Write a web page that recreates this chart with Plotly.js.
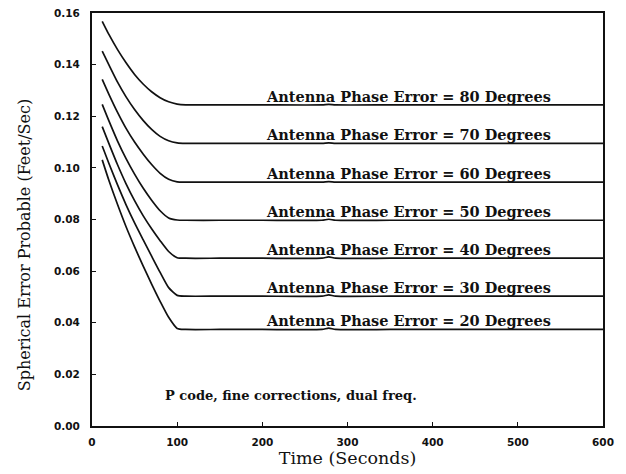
<!DOCTYPE html>
<html>
<head>
<meta charset="utf-8">
<script src="https://cdn.plot.ly/plotly-3.0.1.min.js"></script>
<style>
html,body{margin:0;padding:0;background:#fff;}
#chart{width:626px;height:474px;}
</style>
</head>
<body>
<div id="chart"></div>
<script>
// Time (seconds) sample points
var time = [12, 20, 30, 40, 50, 60, 70, 80, 90, 100, 110, 150, 200, 270, 278, 286, 350, 400, 500, 600];

// Spherical Error Probable (ft/s) for each antenna phase error
var sep80 = [0.1568, 0.1516, 0.1458, 0.1407, 0.1362, 0.1325, 0.1295, 0.1272, 0.1256, 0.1247, 0.1244, 0.1244, 0.1244, 0.1244, 0.1246, 0.1244, 0.1244, 0.1244, 0.1244, 0.1244];
var sep70 = [0.1452, 0.1398, 0.1332, 0.1275, 0.1226, 0.1184, 0.1149, 0.1122, 0.1105, 0.1097, 0.1095, 0.1095, 0.1095, 0.1095, 0.1097, 0.1095, 0.1095, 0.1095, 0.1095, 0.1095];
var sep60 = [0.1343, 0.1284, 0.1215, 0.1153, 0.1100, 0.1054, 0.1013, 0.0979, 0.0956, 0.0946, 0.0945, 0.0945, 0.0945, 0.0945, 0.0947, 0.0945, 0.0945, 0.0945, 0.0945, 0.0945];
var sep50 = [0.1246, 0.1181, 0.1104, 0.1036, 0.0976, 0.0922, 0.0875, 0.0834, 0.0806, 0.0798, 0.0797, 0.0797, 0.0797, 0.0797, 0.0801, 0.0797, 0.0797, 0.0797, 0.0797, 0.0797];
var sep40 = [0.1160, 0.1093, 0.1012, 0.0938, 0.0873, 0.0815, 0.0764, 0.0718, 0.0676, 0.0652, 0.0650, 0.0650, 0.0650, 0.0650, 0.0655, 0.0650, 0.0650, 0.0650, 0.0650, 0.0650];
var sep30 = [0.1085, 0.1016, 0.0934, 0.0857, 0.0787, 0.0722, 0.0658, 0.0595, 0.0536, 0.0506, 0.0503, 0.0503, 0.0503, 0.0503, 0.0508, 0.0503, 0.0503, 0.0503, 0.0503, 0.0503];
var sep20 = [0.1031, 0.0950, 0.0858, 0.0772, 0.0694, 0.0620, 0.0550, 0.0483, 0.0421, 0.0378, 0.0374, 0.0374, 0.0374, 0.0374, 0.0379, 0.0374, 0.0374, 0.0374, 0.0374, 0.0374];

var series = [sep80, sep70, sep60, sep50, sep40, sep30, sep20];
var phaseErrors = [80, 70, 60, 50, 40, 30, 20];
var labelTime = 202;
var noteText = 'P code, fine corrections, dual freq.';
var noteTime = 83;
var noteValue = 0.0118;
var yTitleText = 'Spherical Error Probable (Feet/Sec)';
var xTitleText = 'Time (Seconds)';

var traces = series.map(function (s, i) {
  return {
    x: time, y: s, type: 'scatter', mode: 'lines',
    line: {color: '#111', width: 1.7, shape: 'spline', smoothing: 0.6},
    name: phaseErrors[i] + ' deg', hoverinfo: 'x+y'
  };
});

var labelFont = {family: 'DejaVu Serif', size: 14.5, color: '#111'};
var noteFont = {family: 'DejaVu Serif', size: 13, color: '#111'};

var annotations = series.map(function (s, i) {
  return {
    x: labelTime, y: s[s.length - 1], xref: 'x', yref: 'y',
    xanchor: 'left', yanchor: 'bottom', showarrow: false,
    text: '<b>Antenna Phase Error = ' + phaseErrors[i] + ' Degrees</b>',
    font: labelFont, yshift: -2
  };
});
annotations.push({
  x: noteTime, y: noteValue, xref: 'x', yref: 'y',
  xanchor: 'left', yanchor: 'middle', showarrow: false,
  text: '<b>' + noteText + '</b>', font: noteFont
});
annotations.push({
  x: -0.133, y: 0.438, xref: 'paper', yref: 'paper',
  xanchor: 'center', yanchor: 'middle', showarrow: false, textangle: -90,
  text: yTitleText, font: {family: 'DejaVu Serif', size: 16, color: '#111'}
});

var tickFont = {family: 'DejaVu Sans', size: 10.5, color: '#111', weight: 'bold'};

var layout = {
  width: 626, height: 474,
  margin: {l: 92, r: 23, t: 13, b: 48},
  paper_bgcolor: '#fff', plot_bgcolor: '#fff',
  showlegend: false,
  xaxis: {
    range: [0, 600], tickvals: [0, 100, 200, 300, 400, 500, 600],
    ticks: 'inside', ticklen: 4, tickwidth: 1.2, tickcolor: '#111',
    showline: true, linecolor: '#111', linewidth: 2, mirror: true,
    showgrid: false, zeroline: false,
    tickfont: tickFont, ticklabelstandoff: 5,
    title: {text: xTitleText, font: {family: 'DejaVu Serif', size: 17.5, color: '#111'}, standoff: 0}
  },
  yaxis: {
    range: [0, 0.16], tickvals: [0, 0.02, 0.04, 0.06, 0.08, 0.10, 0.12, 0.14, 0.16],
    tickformat: '.2f',
    ticks: 'inside', ticklen: 4, tickwidth: 1.2, tickcolor: '#111',
    showline: true, linecolor: '#111', linewidth: 2, mirror: true,
    showgrid: false, zeroline: false,
    tickfont: tickFont, ticklabelstandoff: 8
  },
  annotations: annotations
};

Plotly.newPlot('chart', traces, layout, {staticPlot: true, displayModeBar: false});
</script>
</body>
</html>
